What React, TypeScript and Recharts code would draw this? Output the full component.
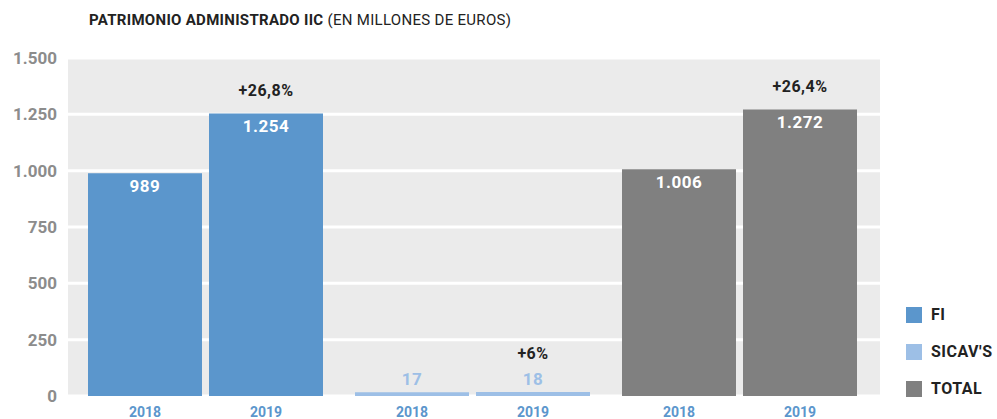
import React from "react";
import { BarChart, Bar, XAxis, YAxis, CartesianGrid, Cell, LabelList } from "recharts";

const categories = ["FI", "SICAV'S", "TOTAL"];
const years = ["2018", "2019"];
const values2018 = [989, 17, 1006];
const values2019 = [1254, 18, 1272];
const growth = ["+26,8%", "+6%", "+26,4%"];
const colors = ["#5b96cc", "#9dbfe6", "#808080"];
const yTicks = [0, 250, 500, 750, 1000, 1250, 1500];

const data = categories.map((c, i) => ({
  name: c,
  y2018: values2018[i],
  y2019: values2019[i],
}));

const FONT = "Roboto, 'DejaVu Sans', sans-serif";

const fmt = (v: number) => {
  const s = String(Math.round(v));
  return s.replace(/\B(?=(\d{3})+(?!\d))/g, ".");
};

const BAR = 114;
const GAP = 7;

const XTick = (props: any) => {
  const { x, y } = props;
  const off = (BAR + GAP) / 2;
  return (
    <g>
      {years.map((yr, k) => (
        <text
          key={yr}
          x={x + (k === 0 ? -off : off)}
          y={y + 13}
          textAnchor="middle"
          fill="#5b96cc"
          fontFamily={FONT}
          fontWeight={700}
          fontSize={14}
        >
          {yr}
        </text>
      ))}
    </g>
  );
};

const makeValueLabel = (withGrowth: boolean) => (props: any) => {
  const { x, y, width, height, value, index } = props;
  const small = height < 30;
  const cx = x + width / 2;
  return (
    <g>
      <text
        x={cx}
        y={small ? y - 7 : y + 19}
        textAnchor="middle"
        fill={small ? colors[index] : "#ffffff"}
        fontFamily={FONT}
        fontWeight={700}
        fontSize={17}
        letterSpacing={0.5}
      >
        {fmt(value)}
      </text>
      {withGrowth && (
        <text
          x={cx}
          y={small ? y - 33 : y - 17}
          textAnchor="middle"
          fill="#222222"
          fontFamily={FONT}
          fontWeight={700}
          fontSize={16}
          letterSpacing={0.5}
        >
          {growth[index]}
        </text>
      )}
    </g>
  );
};

export default function App() {
  return (
    <div style={{ position: "absolute", left: 0, top: 0, width: 997, height: 419, background: "#fff" }}>
      <div
        style={{
          position: "absolute",
          left: 89,
          top: 11,
          fontFamily: FONT,
          fontSize: 15,
          letterSpacing: 0.3,
          color: "#222",
          whiteSpace: "nowrap",
        }}
      >
        <span style={{ fontWeight: 700 }}>PATRIMONIO ADMINISTRADO IIC</span> (EN MILLONES DE EUROS)
      </div>
      <BarChart
        width={997}
        height={419}
        data={data}
        margin={{ top: 58, right: 117, bottom: 0, left: 0 }}
        barSize={BAR}
        barGap={GAP}
      >
        <CartesianGrid fill="#ebebeb" stroke="#ffffff" strokeWidth={3} vertical={false} />
        <XAxis
          dataKey="name"
          axisLine={false}
          tickLine={false}
          height={23}
          padding={{ left: 4, right: 7 }}
          tick={<XTick />}
          interval={0}
        />
        <YAxis
          width={68}
          domain={[0, 1500]}
          ticks={yTicks}
          axisLine={false}
          tickLine={false}
          tickFormatter={fmt}
          tick={{ fill: "#8c8c8c", fontFamily: FONT, fontWeight: 700, fontSize: 17 }}
          tickMargin={5}
        />
        <Bar dataKey="y2018" isAnimationActive={false}>
          {data.map((d, i) => (
            <Cell key={i} fill={colors[i]} />
          ))}
          <LabelList dataKey="y2018" content={makeValueLabel(false)} />
        </Bar>
        <Bar dataKey="y2019" isAnimationActive={false}>
          {data.map((d, i) => (
            <Cell key={i} fill={colors[i]} />
          ))}
          <LabelList dataKey="y2019" content={makeValueLabel(true)} />
        </Bar>
      </BarChart>
      <div style={{ position: "absolute", left: 906, top: 296, fontFamily: FONT }}>
        {categories.map((c, i) => (
          <div key={c} style={{ display: "flex", alignItems: "center", height: 37 }}>
            <div style={{ width: 16, height: 16, background: colors[i], marginRight: 9 }} />
            <span style={{ fontWeight: 700, fontSize: 16, color: "#222", letterSpacing: 0.5 }}>{c}</span>
          </div>
        ))}
      </div>
    </div>
  );
}
